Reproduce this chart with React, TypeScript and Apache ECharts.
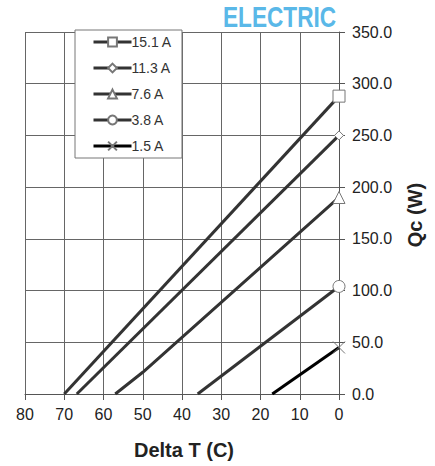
import React, { useEffect, useRef } from "react";
import * as echarts from "echarts";

const seriesNames = ["15.1 A", "11.3 A", "7.6 A", "3.8 A", "1.5 A"];
const dt151 = [70, 0];
const qc151 = [0, 288];
const dt113 = [66.8, 0];
const qc113 = [0, 250];
const dt76 = [57, 50, 0];
const qc76 = [0, 21, 190];
const dt38 = [36, 0];
const qc38 = [0, 104];
const dt15 = [17, 0];
const qc15 = [0, 45];
const xTicks = [0, 80, 10];
const yTicks = [0, 350, 50];

const CROSS = "path://M0,0 L10,10 M10,0 L0,10";
const FONT = "'Liberation Sans', Arial, sans-serif";

function mk(name: string, xs: number[], ys: number[], symbol: string, size: number, color: string) {
  return {
    type: "line",
    name,
    symbol,
    symbolSize: size,
    showAllSymbol: true,
    lineStyle: { color, width: 3 },
    itemStyle: { color: "#fff", borderColor: "#777", borderWidth: 1 },
    data: xs.map((x, i) =>
      i === xs.length - 1 ? { value: [x, ys[i]] } : { value: [x, ys[i]], symbol: "none" }
    ),
    z: 3,
  };
}

export default function App() {
  const ref = useRef<HTMLDivElement>(null);
  useEffect(() => {
    const chart = echarts.init(ref.current!, null, { renderer: "svg" });
    chart.setOption({
      animation: false,
      backgroundColor: "#fff",
      textStyle: { fontFamily: FONT },
      grid: { left: 25, right: 96, top: 32, bottom: 72 },
      legend: {
        orient: "vertical",
        left: 75,
        top: 30,
        padding: [5, 10, 5, 17],
        itemWidth: 38,
        itemHeight: 11,
        itemGap: 12,
        borderColor: "#777",
        borderWidth: 1,
        backgroundColor: "#fff",
        lineStyle: { width: 3 },
        textStyle: { fontFamily: FONT, fontSize: 14, color: "#333", padding: [0, 0, 0, -5] },
        data: seriesNames,
      },
      xAxis: {
        type: "value",
        inverse: true,
        min: xTicks[0],
        max: xTicks[1],
        interval: xTicks[2],
        axisLine: { show: true, onZero: false, lineStyle: { color: "#555", width: 1 } },
        axisTick: { show: true, length: 6, lineStyle: { color: "#555" } },
        axisLabel: { color: "#222", fontSize: 16, margin: 12, fontFamily: FONT },
        splitLine: { show: true, lineStyle: { color: "#666", width: 1 } },
      },
      yAxis: {
        type: "value",
        position: "right",
        min: yTicks[0],
        max: yTicks[1],
        interval: yTicks[2],
        axisLine: { show: true, onZero: false, lineStyle: { color: "#555", width: 1 } },
        axisTick: { show: true, length: 6, lineStyle: { color: "#555" } },
        axisLabel: {
          color: "#222",
          fontSize: 16,
          margin: 13,
          fontFamily: FONT,
          formatter: (v: number) => v.toFixed(1),
        },
        splitLine: { show: true, lineStyle: { color: "#666", width: 1 } },
      },
      graphic: [
        {
          type: "text",
          x: 223,
          y: 17,
          scaleX: 0.78,
          style: {
            text: "ELECTRIC",
            font: `bold 29px ${FONT}`,
            fill: "#5ab8e8",
            textAlign: "left",
            textVerticalAlign: "middle",
          },
          z: 10,
        },
        {
          type: "text",
          x: 184,
          y: 450,
          style: {
            text: "Delta T (C)",
            font: `bold 20px ${FONT}`,
            fill: "#222",
            textAlign: "center",
            textVerticalAlign: "middle",
          },
        },
        {
          type: "text",
          x: 415,
          y: 215,
          rotation: Math.PI / 2,
          style: {
            text: "Qc (W)",
            font: `bold 20px ${FONT}`,
            fill: "#222",
            textAlign: "center",
            textVerticalAlign: "middle",
          },
        },
      ],
      series: [
        mk(seriesNames[0], dt151, qc151, "rect", 12, "#333"),
        mk(seriesNames[1], dt113, qc113, "diamond", 9, "#333"),
        mk(seriesNames[2], dt76, qc76, "triangle", 12, "#333"),
        mk(seriesNames[3], dt38, qc38, "circle", 12, "#333"),
        mk(seriesNames[4], dt15, qc15, CROSS, 12, "#000"),
      ],
    });
    return () => chart.dispose();
  }, []);
  return (
    <div
      ref={ref}
      style={{ position: "fixed", left: 0, top: 0, width: 435, height: 466 }}
    />
  );
}
